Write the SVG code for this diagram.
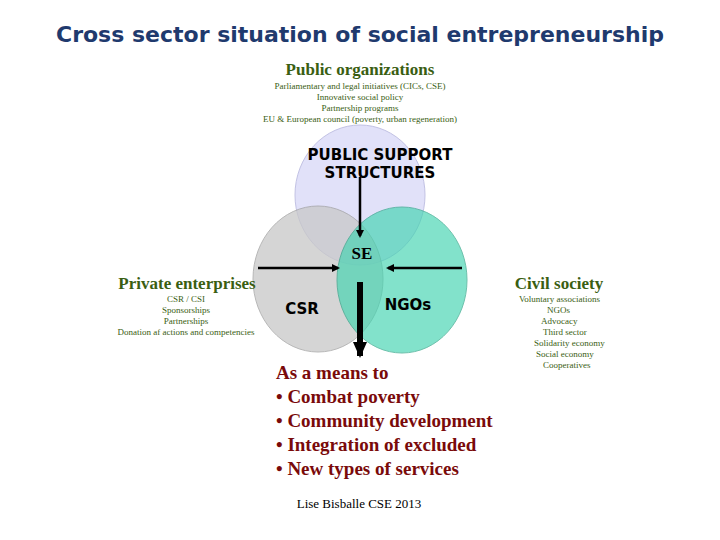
<svg xmlns="http://www.w3.org/2000/svg" width="720" height="540" viewBox="0 0 720 540">
<style>
.g{fill:#3a5e12;font-family:"Liberation Serif",serif;font-weight:bold;font-size:17px}
.s{fill:#3a5e12;font-family:"Liberation Serif",serif;font-size:9px}
.b{font-family:"DejaVu Sans",sans-serif;font-weight:bold;font-size:15px;fill:#000}
.r{fill:#7a0a0a;font-family:"Liberation Serif",serif;font-weight:bold;font-size:19px}
.a{stroke:#000;stroke-width:2.5;fill:none}
</style>
<defs><marker id="ah" markerWidth="8" markerHeight="8" refX="6" refY="4" orient="auto" markerUnits="userSpaceOnUse"><path d="M0,0 L8,4 L0,8 Z" fill="#000"/></marker>
<marker id="ah2" markerWidth="16" markerHeight="14" refX="14" refY="7" orient="auto" markerUnits="userSpaceOnUse"><path d="M0,0 L16,7 L0,14 Z" fill="#000"/></marker></defs>
<rect width="720" height="540" fill="#fff"/>
<text x="360" y="42" text-anchor="middle" font-family="DejaVu Sans,sans-serif" font-weight="bold" font-size="22" fill="#1f3a6e">Cross sector situation of social entrepreneurship</text>
<g id="public"><text class="g" x="360" y="75" text-anchor="middle">Public organizations</text>
<text class="s" text-anchor="middle"><tspan x="360" y="89">Parliamentary and legal initiatives (CICs, CSE)</tspan><tspan x="360" y="100">Innovative social policy</tspan><tspan x="360" y="111">Partnership programs</tspan><tspan x="360" y="122">EU &amp; European council (poverty, urban regeneration)</tspan></text></g>
<g id="circles">
<ellipse cx="360" cy="195" rx="65" ry="70" fill="#dcdcf8" stroke="#b8b8e0" opacity="0.85"/>
<ellipse cx="318" cy="279" rx="65" ry="73" fill="#c8c8c8" stroke="#a0a0a0" opacity="0.75"/>
<ellipse cx="402" cy="280" rx="65" ry="73" fill="#40d4b0" stroke="#20a080" opacity="0.65"/>
</g>
<g id="pss"><text class="b" x="380" y="160" text-anchor="middle">PUBLIC SUPPORT</text><text class="b" x="380" y="178" text-anchor="middle">STRUCTURES</text></g>
<g id="se"><text x="362" y="259" text-anchor="middle" font-family="Liberation Serif,serif" font-weight="bold" font-size="17">SE</text></g>
<g id="csr"><text class="b" x="302" y="314" text-anchor="middle" font-size="16">CSR</text></g>
<g id="ngos"><text class="b" x="408" y="310" text-anchor="middle" font-size="14">NGOs</text></g>
<g id="private"><text class="g" x="187" y="289" text-anchor="middle">Private enterprises</text>
<text class="s" text-anchor="middle"><tspan x="186" y="302">CSR / CSI</tspan><tspan x="186" y="313">Sponsorships</tspan><tspan x="186" y="324">Partnerships</tspan><tspan x="186" y="335">Donation af actions and competencies</tspan></text></g>
<g id="civil"><text class="g" x="559" y="289" text-anchor="middle">Civil society</text>
<text class="s"><tspan x="519" y="302">Voluntary associations</tspan><tspan x="547" y="313">NGOs</tspan><tspan x="541" y="324">Advocacy</tspan><tspan x="543" y="335">Third sector</tspan><tspan x="534" y="346">Solidarity economy</tspan><tspan x="536" y="357">Social economy</tspan><tspan x="543" y="368">Cooperatives</tspan></text></g>
<g id="connectors">
<line class="a" x1="360" y1="177" x2="360" y2="236" marker-end="url(#ah)" stroke-width="2"/>
<line class="a" x1="258" y1="268" x2="338" y2="268" marker-end="url(#ah)"/>
<line class="a" x1="462" y1="268" x2="388" y2="268" marker-end="url(#ah)"/>
<line x1="360" y1="282" x2="360" y2="356" stroke="#000" stroke-width="6" marker-end="url(#ah2)"/>
</g>
<g id="means"><text class="r"><tspan x="276" y="379">As a means to</tspan><tspan x="276" y="403">• Combat poverty</tspan><tspan x="276" y="427">• Community development</tspan><tspan x="276" y="451">• Integration of excluded</tspan><tspan x="276" y="475">• New types of services</tspan></text></g>
<text x="359" y="508" text-anchor="middle" font-family="Liberation Serif,serif" font-size="13">Lise Bisballe CSE 2013</text>
</svg>
